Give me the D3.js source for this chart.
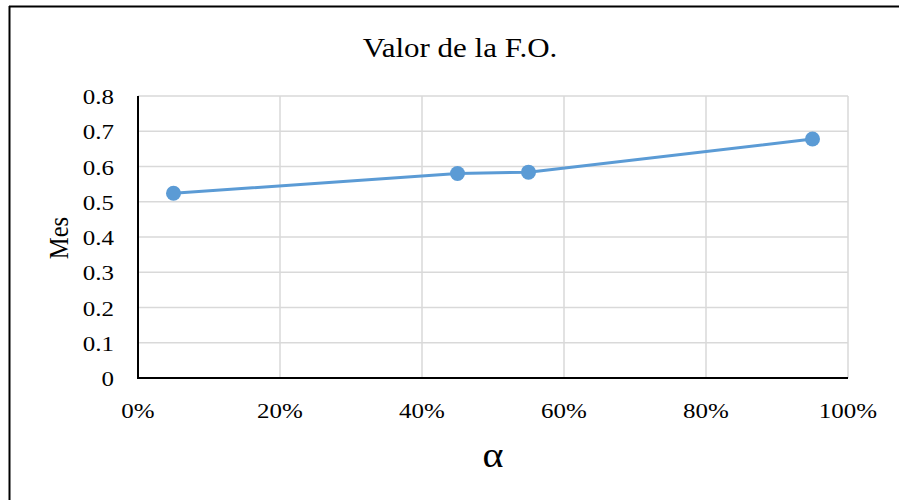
<!DOCTYPE html>
<html><head><meta charset="utf-8">
<script src="https://cdn.jsdelivr.net/npm/d3@7"></script>
<style>html,body{margin:0;padding:0;background:#fff;}svg{display:block;}text{font-family:"Liberation Serif","Times New Roman",serif;fill:#000;}</style>
</head><body>
<svg id="c" width="899" height="503"></svg>
<script>
const alphaVals = [0.05, 0.45, 0.55, 0.95];
const mesVals = [0.524, 0.580, 0.584, 0.678];
const xTicks = [0, 0.2, 0.4, 0.6, 0.8, 1.0];
const yTicks = [0, 0.1, 0.2, 0.3, 0.4, 0.5, 0.6, 0.7, 0.8];
const titleText = "Valor de la F.O.";
const xTitle = "α";
const yTitle = "Mes";

const svg = d3.select("#c");
const x = d3.scaleLinear().domain([0, 1]).range([138, 848]);
const y = d3.scaleLinear().domain([0, 0.8]).range([378, 96]);
const sq = 0.88;
const ff = "Liberation Serif";

// outer frame (top and left visible)
svg.append("line").attr("x1", 9).attr("x2", 899).attr("y1", 6.5).attr("y2", 6.5).attr("stroke", "#000").attr("stroke-width", 2);
svg.append("line").attr("x1", 9.5).attr("x2", 9.5).attr("y1", 6).attr("y2", 500).attr("stroke", "#000").attr("stroke-width", 2);

// grid
svg.append("g").selectAll("line").data(yTicks.filter(d => d > 0)).join("line")
  .attr("x1", x(0)).attr("x2", x(1)).attr("y1", d => y(d)).attr("y2", d => y(d))
  .attr("stroke", "#D9D9D9").attr("stroke-width", 1.5);
svg.append("g").selectAll("line").data(xTicks.filter(d => d > 0)).join("line")
  .attr("x1", d => x(d)).attr("x2", d => x(d)).attr("y1", y(0)).attr("y2", y(0.8))
  .attr("stroke", "#D9D9D9").attr("stroke-width", 1.5);

// axes lines
svg.append("line").attr("x1", x(0)).attr("x2", x(0)).attr("y1", y(0.8)).attr("y2", y(0) + 1).attr("stroke", "#000").attr("stroke-width", 2);
svg.append("line").attr("x1", x(0) - 1).attr("x2", x(1)).attr("y1", y(0)).attr("y2", y(0)).attr("stroke", "#000").attr("stroke-width", 2);

// tick labels
svg.append("g").selectAll("text").data(yTicks).join("text")
  .attr("transform", d => `translate(114,${y(d) + 8}) scale(1,${sq})`)
  .attr("text-anchor", "end").attr("font-family", ff).attr("font-size", 25)
  .text(d => d === 0 ? "0" : d3.format(".1f")(d));
svg.append("g").selectAll("text").data(xTicks).join("text")
  .attr("transform", d => `translate(${x(d)},418) scale(1,${sq})`)
  .attr("text-anchor", "middle").attr("font-family", ff).attr("font-size", 25)
  .text(d => d3.format(".0%")(d));

// titles
svg.append("text").attr("transform", `translate(460,57) scale(1,${sq})`)
  .attr("text-anchor", "middle").attr("font-family", ff).attr("font-size", 31).text(titleText);
svg.append("text").attr("transform", `translate(493,467) scale(1,${sq})`)
  .attr("text-anchor", "middle").attr("font-family", ff).attr("font-size", 40).text(xTitle);
svg.append("text").attr("transform", `translate(68,238) rotate(-90) scale(${sq},1)`)
  .attr("text-anchor", "middle").attr("font-family", ff).attr("font-size", 28).text(yTitle);

// series
const pts = alphaVals.map((a, i) => [a, mesVals[i]]);
svg.append("path").datum(pts)
  .attr("d", d3.line().x(d => x(d[0])).y(d => y(d[1])))
  .attr("fill", "none").attr("stroke", "#5B9BD5").attr("stroke-width", 3).attr("stroke-linejoin", "round");
svg.append("g").selectAll("circle").data(pts).join("circle")
  .attr("cx", d => x(d[0])).attr("cy", d => y(d[1])).attr("r", 7.5).attr("fill", "#5B9BD5");
</script>
</body></html>
